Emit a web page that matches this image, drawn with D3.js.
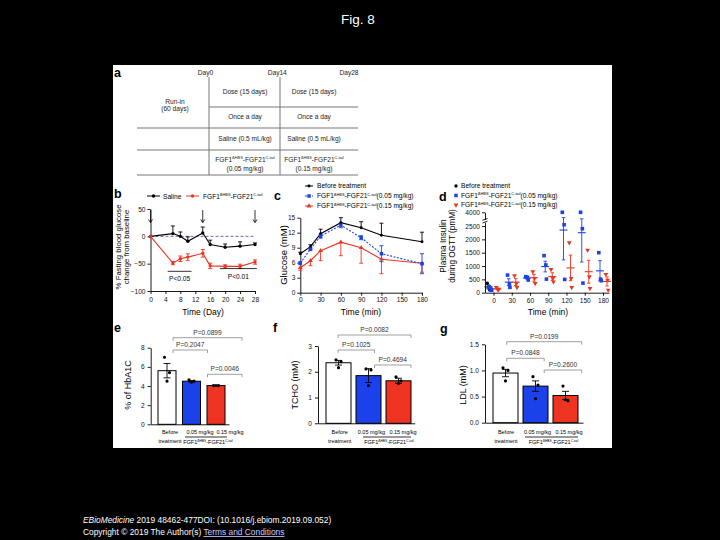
<html>
<head>
<script src="https://cdn.jsdelivr.net/npm/d3@7"></script>
<style>
  body { margin: 0; background: #000; }
  text { font-family: "Liberation Sans", Arial, sans-serif; }
</style>
</head>
<body>
<div id="chart"></div>
<script>
// ================= data =================
// panel a (study design)
const aDays = ["Day0", "Day14", "Day28"];
const aRows = [["Dose (15 days)", "Dose (15 days)"], ["Once a day", "Once a day"], ["Saline (0.5 mL/kg)", "Saline (0.5 mL/kg)"]];
const aDoses = ["(0.05 mg/kg)", "(0.15 mg/kg)"];

// panel b: % fasting glucose change
const bDays = [0, 6, 8, 10, 14, 16, 20, 24, 28];
const bSaline = [0, 5, 0, -9, 6, -15, -20, -18, -15];
const bSalineErr = [0, 14, 8, 8, 11, 8, 6, 8, 3];
const bFgf = [0, -49, -41, -38, -31, -54, -55, -55, -47];
const bFgfErr = [0, 3, 5, 6, 7, 5, 3, 4, 4];
const bArrowDays = [0, 14, 28];
const bTicksX = [0, 4, 8, 12, 16, 20, 24, 28];
const bTicksY = [-100, -50, 0, 50];
const bSigText = ["P<0.05", "P<0.01"];
const bSigFrom = [4.6, 18.6];
const bSigTo = [11, 28.5];
const bSigAt = [-64, -59];

// panel c: OGTT glucose
const cTimes = [0, 15, 30, 60, 90, 120, 180];
const cBefore = [7.8, 9.2, 11.8, 14.0, 13.0, 11.5, 10.2];
const cBeforeErr = [0.3, 0.4, 0.9, 1.0, 1.2, 2.4, 1.9];
const cLow = [5.9, 8.7, 11.3, 13.5, 11.0, 7.8, 5.8];
const cLowErr = [0.3, 0.2, 0.4, 0.5, 0.4, 1.6, 2.0];
const cHigh = [5.0, 6.4, 8.4, 10.1, 9.0, 6.7, 5.9];
const cHighErr = [0.5, 1.0, 2.0, 2.7, 3.1, 2.9, 1.8];
const cTicksX = [0, 30, 60, 90, 120, 150, 180];
const cTicksY = [0, 3, 6, 9, 12, 15];

// panel d: insulin during OGTT (individual animals + mean/SEM)
const dTimes = [0, 30, 60, 90, 120, 150, 180];
const dBeforeTimes = [0];
const dBeforePts = [[350, 200, 100]];
const dBeforeMean = [217];
const dBeforeErr = [70];
const dLowPts = [[220, 120, 90], [660, 325, 200], [600, 575, 475], [1390, 1040, 510], [4000, 2550, 500], [4000, 2400, 360], [1500, 510, 450]];
const dLowMean = [143, 395, 550, 980, 2350, 2250, 820];
const dLowErr = [40, 130, 40, 200, 1120, 1100, 380];
const dHighPts = [[200, 100, 130], [640, 350, 200], [790, 540, 350], [875, 540, 410], [1875, 540, 200], [1600, 600, 160], [690, 475, 100]];
const dHighMean = [143, 397, 560, 608, 930, 787, 422];
const dHighErr = [30, 130, 130, 140, 480, 430, 170];
const dTicksY = [0, 500, 1000, 1500, 2000, 2500];
const dTicksYTop = [4000];

// panels e-g: bars
const barCats = ["Before treatment", "0.05 mg/kg", "0.15 mg/kg"];
const eMean = [5.6, 4.5, 4.05];
const eErr = [0.75, 0.07, 0.03];
const ePts = [[7.0, 5.4, 4.5], [4.65, 4.5, 4.4], [4.05, 4.05, 4.05]];
const eTicks = [0, 2, 4, 6, 8];
const eSig = ["P=0.0899", "P=0.2047", "P=0.0046"];

const fMean = [2.35, 1.85, 1.65];
const fErr = [0.09, 0.27, 0.1];
const fPts = [[2.46, 2.39, 2.16], [2.11, 2.07, 1.46], [1.8, 1.65, 1.55]];
const fTicks = [0, 1, 2, 3];
const fSig = ["P=0.0082", "P=0.1025", "P=0.4694"];

const gMean = [0.95, 0.70, 0.52];
const gErr = [0.07, 0.10, 0.08];
const gPts = [[1.05, 1.0, 0.8], [0.88, 0.72, 0.46], [0.70, 0.42, 0.44]];
const gTicks = [0, 0.5, 1.0, 1.5];
const gSig = ["P=0.0199", "P=0.0848", "P=0.2600"];

const sigPairs = [[0, 2], [0, 1], [1, 2]];

// ================= drawing =================
const blue = "#1b42ea", red = "#ee3420", purple = "#7b5fc8";
const FS = 6.6;

const svg = d3.select("#chart").append("svg").attr("width", 720).attr("height", 540);
svg.append("rect").attr("width", 720).attr("height", 540).attr("fill", "#000");

svg.append("text").attr("x", 358).attr("y", 24).attr("text-anchor", "middle")
   .attr("fill", "#fff").attr("font-size", 13.5).text("Fig. 8");

svg.append("rect").attr("x", 113).attr("y", 65).attr("width", 499).attr("height", 383).attr("fill", "#fff");

const fig = svg.append("g");

// FGF1^ΔHBS-FGF21^C-tail with superscripts
function fgfText(g, x, y, size, anchor, tail) {
    const t = g.append("text").attr("x", x).attr("y", y).attr("font-size", size).attr("text-anchor", anchor);
    t.append("tspan").text("FGF1");
    t.append("tspan").attr("dy", -size * 0.4).attr("font-size", size * 0.6).text("ΔHBS");
    t.append("tspan").attr("dy", size * 0.4).text("-FGF21");
    t.append("tspan").attr("dy", -size * 0.4).attr("font-size", size * 0.6).text("C-tail");
    if (tail) t.append("tspan").attr("dy", size * 0.4).text(tail);
    return t;
}

function letter(x, y, s) {
    fig.append("text").attr("x", x).attr("y", y).attr("font-size", 12.5).attr("font-weight", "bold").text(s);
}

function styleAxis(sel) {
    sel.attr("font-size", FS).attr("font-family", "Liberation Sans, Arial, sans-serif");
    sel.selectAll("path, line").attr("stroke", "#000").attr("stroke-width", 0.9);
    sel.selectAll("text").attr("fill", "#111");
}

function yTitle(x, y, size, lines) {
    lines.forEach((s, i) => {
        fig.append("text").attr("transform", `translate(${x + i * size * 1.05},${y}) rotate(-90)`)
           .attr("text-anchor", "middle").attr("font-size", size).text(s);
    });
}

function marker(g, type, x, y, color, size) {
    const sym = type === "square" ? d3.symbolSquare : type === "tri" || type === "down" ? d3.symbolTriangle : d3.symbolCircle;
    g.append("path").attr("d", d3.symbol(sym, size)())
     .attr("transform", `translate(${x},${y})` + (type === "down" ? " rotate(180)" : ""))
     .attr("fill", color);
}

function errBar(g, x, y0, y1, color, cap, w) {
    g.append("line").attr("x1", x).attr("x2", x).attr("y1", y0).attr("y2", y1).attr("stroke", color).attr("stroke-width", w || 0.9);
    g.append("line").attr("x1", x - cap / 2).attr("x2", x + cap / 2).attr("y1", y1).attr("y2", y1).attr("stroke", color).attr("stroke-width", w || 0.9);
}

// ---------- panel a ----------
letter(114, 77, "a");
const tbl = fig.append("g").attr("font-size", 6.6).attr("fill", "#222");
const aDayX = d3.scalePoint().domain(aDays).range([205.5, 349]);
aDays.forEach(d => tbl.append("text").attr("x", aDayX(d)).attr("y", 75).attr("text-anchor", "middle").text(d));
const aColX = [245, 314];
const aRowY = [94, 119, 141];
const lineCol = "#777";
[209, 280].forEach(x => tbl.append("line").attr("x1", x).attr("x2", x).attr("y1", 77).attr("y2", 175).attr("stroke", lineCol).attr("stroke-width", 1));
tbl.append("line").attr("x1", 209).attr("x2", 358).attr("y1", 107).attr("y2", 107).attr("stroke", lineCol);
[128, 150, 175].forEach(y => tbl.append("line").attr("x1", 137).attr("x2", 358).attr("y1", y).attr("y2", y).attr("stroke", lineCol));
aRows.forEach((row, r) => row.forEach((s, c) =>
    tbl.append("text").attr("x", aColX[c]).attr("y", aRowY[r]).attr("text-anchor", "middle").text(s)));
aDoses.forEach((s, c) => {
    fgfText(tbl, aColX[c], 162, 6.6, "middle");
    tbl.append("text").attr("x", aColX[c]).attr("y", 171).attr("text-anchor", "middle").text(s);
});
tbl.append("text").attr("x", 175).attr("y", 104).attr("text-anchor", "middle").text("Run-in");
tbl.append("text").attr("x", 175).attr("y", 111).attr("text-anchor", "middle").text("(60 days)");

// ---------- panel b ----------
letter(114, 198, "b");
const xB = d3.scaleLinear().domain([0, 28]).range([150.5, 255]);
const yB = d3.scaleLinear().domain([-100, 50]).range([291, 209]);
const gB = fig.append("g");
gB.append("g").attr("transform", "translate(0,291)")
  .call(d3.axisBottom(xB).tickValues(bTicksX).tickSize(3).tickSizeOuter(0).tickPadding(3)).call(styleAxis);
gB.append("g").attr("transform", "translate(150.5,0)")
  .call(d3.axisLeft(yB).tickValues(bTicksY).tickSize(3).tickSizeOuter(0).tickPadding(2)).call(styleAxis);
gB.append("line").attr("x1", xB(0)).attr("x2", xB(28)).attr("y1", yB(0)).attr("y2", yB(0))
  .attr("stroke", purple).attr("stroke-width", 1).attr("stroke-dasharray", "3,2");
// saline
gB.append("path").attr("d", d3.line().x((d, i) => xB(bDays[i])).y(d => yB(d))(bSaline))
  .attr("fill", "none").attr("stroke", "#000").attr("stroke-width", 1.1);
bSaline.forEach((v, i) => { if (bSalineErr[i]) errBar(gB, xB(bDays[i]), yB(v), yB(v + bSalineErr[i]), "#000", 4); });
bSaline.forEach((v, i) => marker(gB, "circle", xB(bDays[i]), yB(v), "#000", 9));
// FGF
gB.append("path").attr("d", d3.line().x((d, i) => xB(bDays[i])).y(d => yB(d))(bFgf))
  .attr("fill", "none").attr("stroke", red).attr("stroke-width", 1.1);
bFgf.forEach((v, i) => {
    if (bFgfErr[i]) {
        errBar(gB, xB(bDays[i]), yB(v), yB(v + bFgfErr[i]), red, 4);
        errBar(gB, xB(bDays[i]), yB(v), yB(v - bFgfErr[i]), red, 4);
    }
});
bFgf.forEach((v, i) => marker(gB, "circle", xB(bDays[i]), yB(v), red, 9));
// arrows at dosing days
bArrowDays.forEach(d => {
    gB.append("line").attr("x1", xB(d)).attr("x2", xB(d)).attr("y1", yB(48)).attr("y2", yB(26)).attr("stroke", "#000").attr("stroke-width", 0.8);
    gB.append("path").attr("d", `M${xB(d) - 2},${yB(31)} L${xB(d)},${yB(25)} L${xB(d) + 2},${yB(31)}`)
      .attr("fill", "none").attr("stroke", "#000").attr("stroke-width", 0.8);
});
bSigText.forEach((s, i) => {
    gB.append("line").attr("x1", xB(bSigFrom[i])).attr("x2", xB(bSigTo[i])).attr("y1", yB(bSigAt[i])).attr("y2", yB(bSigAt[i]))
      .attr("stroke", "#000").attr("stroke-width", 0.8);
    gB.append("text").attr("x", (xB(bSigFrom[i]) + xB(bSigTo[i])) / 2).attr("y", yB(bSigAt[i]) + 10)
      .attr("text-anchor", "middle").attr("font-size", FS).text(s);
});
// legend
gB.append("line").attr("x1", 147).attr("x2", 160).attr("y1", 196).attr("y2", 196).attr("stroke", "#000");
marker(gB, "circle", 153.5, 196, "#000", 9);
gB.append("text").attr("x", 163).attr("y", 198.5).attr("font-size", FS).text("Saline");
gB.append("line").attr("x1", 186).attr("x2", 199).attr("y1", 196).attr("y2", 196).attr("stroke", red);
marker(gB, "circle", 192.5, 196, red, 9);
fgfText(gB, 203, 198.5, FS, "start");
yTitle(121, 247, 7.8, ["% Fasting blood glucose", "change from baseline"]);
fig.append("text").attr("x", 203).attr("y", 315).attr("text-anchor", "middle").attr("font-size", 8.5).text("Time (Day)");

// ---------- panel c ----------
letter(274, 200, "c");
const xC = d3.scaleLinear().domain([0, 180]).range([300.3, 422]);
const yC = d3.scaleLinear().domain([0, 15]).range([292.7, 217.7]);
const gC = fig.append("g");
gC.append("g").attr("transform", "translate(0,292.7)")
  .call(d3.axisBottom(xC).tickValues(cTicksX).tickSize(3).tickSizeOuter(0).tickPadding(2)).call(styleAxis);
gC.append("g").attr("transform", "translate(300.3,0)")
  .call(d3.axisLeft(yC).tickValues(cTicksY).tickSize(3).tickSizeOuter(0).tickPadding(2)).call(styleAxis);
const cLine = d3.line().x((d, i) => xC(cTimes[i])).y(d => yC(d));
gC.append("path").attr("d", cLine(cBefore)).attr("fill", "none").attr("stroke", "#000").attr("stroke-width", 1.1);
gC.append("path").attr("d", cLine(cHigh)).attr("fill", "none").attr("stroke", red).attr("stroke-width", 1.1);
gC.append("path").attr("d", cLine(cLow)).attr("fill", "none").attr("stroke", blue).attr("stroke-width", 1.1).attr("stroke-dasharray", "2,1.5");
cBefore.forEach((v, i) => errBar(gC, xC(cTimes[i]), yC(v), yC(v + cBeforeErr[i]), "#000", 4));
cHigh.forEach((v, i) => errBar(gC, xC(cTimes[i]), yC(v), yC(v - cHighErr[i]), red, 4));
cLow.forEach((v, i) => {
    errBar(gC, xC(cTimes[i]), yC(v), yC(v + cLowErr[i]), blue, 4);
    errBar(gC, xC(cTimes[i]), yC(v), yC(v - cLowErr[i]), blue, 4);
});
cBefore.forEach((v, i) => marker(gC, "circle", xC(cTimes[i]), yC(v), "#000", 7));
cHigh.forEach((v, i) => marker(gC, "tri", xC(cTimes[i]), yC(v), red, 10));
cLow.forEach((v, i) => marker(gC, "square", xC(cTimes[i]), yC(v), blue, 12));
// legend
const cLegY = [186, 196, 206];
gC.append("line").attr("x1", 305).attr("x2", 313).attr("y1", cLegY[0]).attr("y2", cLegY[0]).attr("stroke", "#000");
marker(gC, "circle", 309, cLegY[0], "#000", 7);
gC.append("text").attr("x", 317).attr("y", cLegY[0] + 2.3).attr("font-size", FS).text("Before treatment");
gC.append("line").attr("x1", 305).attr("x2", 313).attr("y1", cLegY[1]).attr("y2", cLegY[1]).attr("stroke", blue).attr("stroke-dasharray", "2,1.5");
marker(gC, "square", 309, cLegY[1], blue, 12);
fgfText(gC, 317, cLegY[1] + 2.3, FS, "start", "(0.05 mg/kg)");
gC.append("line").attr("x1", 305).attr("x2", 313).attr("y1", cLegY[2]).attr("y2", cLegY[2]).attr("stroke", red);
marker(gC, "tri", 309, cLegY[2], red, 10);
fgfText(gC, 317, cLegY[2] + 2.3, FS, "start", "(0.15 mg/kg)");
yTitle(287, 255, 9.5, ["Glucose (mM)"]);
fig.append("text").attr("x", 361).attr("y", 315).attr("text-anchor", "middle").attr("font-size", 8.5).text("Time (min)");

// ---------- panel d ----------
letter(439, 201, "d");
const xD = d3.scaleLinear().domain([0, 180]).range([493.5, 603]);
const yDLow = d3.scaleLinear().domain([0, 2640]).range([292.7, 222.3]);
const yDHigh = d3.scaleLinear().domain([3300, 4000]).range([219.3, 212.3]);
const yD = v => v <= 2640 ? yDLow(v) : yDHigh(Math.max(v, 3300));
const gD = fig.append("g");
gD.append("g").attr("transform", "translate(0,292.7)")
  .call(d3.axisBottom(xD.copy().range([485, 609]).domain([xD.invert(485), xD.invert(609)])).tickValues(dTimes).tickSize(3).tickSizeOuter(0).tickPadding(3)).call(styleAxis);
gD.append("g").attr("transform", "translate(485,0)")
  .call(d3.axisLeft(yDLow).tickValues(dTicksY).tickFormat(d3.format("d")).tickSize(3).tickSizeOuter(0).tickPadding(2)).call(styleAxis);
gD.append("g").attr("transform", "translate(485,0)")
  .call(d3.axisLeft(yDHigh).tickValues(dTicksYTop).tickFormat(d3.format("d")).tickSize(3).tickSizeOuter(0).tickPadding(2)).call(styleAxis);
gD.append("path").attr("d", "M482.5,223 L487.5,221.2 M482.5,220.3 L487.5,218.5").attr("stroke", "#000").attr("stroke-width", 0.9);

const dGroups = [
    { times: dBeforeTimes, pts: dBeforePts, mean: dBeforeMean, err: dBeforeErr, color: "#000", type: "circle", size: 10, off: -5 },
    { times: dTimes, pts: dLowPts, mean: dLowMean, err: dLowErr, color: blue, type: "square", size: 13, off: -3 },
    { times: dTimes, pts: dHighPts, mean: dHighMean, err: dHighErr, color: red, type: "down", size: 10, off: 4 }
];
const jitter = [-1.2, 0.6, 1.2];
dGroups.forEach(grp => {
    grp.times.forEach((t, i) => {
        const x = xD(t) + grp.off;
        errBar(gD, x, yD(grp.mean[i]), yD(grp.mean[i] + grp.err[i]), grp.color, 3.5);
        errBar(gD, x, yD(grp.mean[i]), yD(grp.mean[i] - grp.err[i]), grp.color, 3.5);
        gD.append("line").attr("x1", x - 4).attr("x2", x + 4).attr("y1", yD(grp.mean[i])).attr("y2", yD(grp.mean[i]))
          .attr("stroke", grp.color).attr("stroke-width", 1.1);
        grp.pts[i].forEach((v, k) => marker(gD, grp.type, x + jitter[k], yD(v), grp.color, grp.size));
    });
});
const dLegY = [186, 195.5, 205];
marker(gD, "circle", 456, dLegY[0], "#000", 9);
gD.append("text").attr("x", 461).attr("y", dLegY[0] + 2.3).attr("font-size", FS).text("Before treatment");
marker(gD, "square", 456, dLegY[1], blue, 12);
fgfText(gD, 461, dLegY[1] + 2.3, FS, "start", "(0.05 mg/kg)");
marker(gD, "down", 456, dLegY[2], red, 10);
fgfText(gD, 461, dLegY[2] + 2.3, FS, "start", "(0.15 mg/kg)");
yTitle(446, 246, 8.2, ["Plasma Insulin", "during OGTT (pmM)"]);
fig.append("text").attr("x", 548).attr("y", 315).attr("text-anchor", "middle").attr("font-size", 8.5).text("Time (min)");

// ---------- panels e, f, g ----------
const LFS = 5.5;
function barPanel(o) {
    const g = fig.append("g");
    const x = d3.scaleBand().domain(barCats).range(o.bandRange).paddingInner(o.padding).paddingOuter(0);
    const y = d3.scaleLinear().domain(o.domain).range(o.yRange);
    const xb = d3.scalePoint().domain(barCats).range(o.sigRange);
    const xl = d3.scalePoint().domain(barCats).range(o.labRange);
    const fills = ["#fff", blue, red];
    // bars
    barCats.forEach((c, i) => {
        g.append("rect").attr("x", x(c)).attr("y", y(o.mean[i])).attr("width", x.bandwidth()).attr("height", y(o.domain[0]) - y(o.mean[i]))
         .attr("fill", fills[i]).attr("stroke", "#000").attr("stroke-width", 1);
    });
    barCats.forEach((c, i) => {
        const cx = x(c) + x.bandwidth() / 2;
        errBar(g, cx, y(o.mean[i]), y(o.mean[i] + o.err[i]), "#000", 7);
        errBar(g, cx, y(o.mean[i]), y(o.mean[i] - o.err[i]), "#000", 7);
        o.pts[i].forEach((v, k) => marker(g, "circle", cx + [-2.5, 2.5, 0][k], y(v), "#000", 8));
    });
    // axes
    g.append("g").attr("transform", `translate(${o.axisX},0)`)
     .call(d3.axisLeft(y).tickValues(o.ticks).tickFormat(o.fmt).tickSize(3).tickSizeOuter(0).tickPadding(3)).call(styleAxis);
    g.append("g").attr("transform", `translate(0,${o.yRange[0]})`)
     .call(d3.axisBottom(d3.scaleLinear().range([o.axisX, o.axisEnd])).tickValues([]).tickSizeOuter(0)).call(styleAxis);
    // significance brackets
    sigPairs.forEach((p, i) => {
        const x1 = xb(barCats[p[0]]), x2 = xb(barCats[p[1]]), yy = o.sigY[i];
        g.append("path").attr("d", `M${x1},${yy + 3} V${yy} H${x2} V${yy + 3}`)
         .attr("fill", "none").attr("stroke", "#888").attr("stroke-width", 0.8);
        g.append("text").attr("x", (x1 + x2) / 2).attr("y", yy - 3).attr("text-anchor", "middle")
         .attr("font-size", FS).attr("fill", "#333").text(o.sig[i]);
    });
    // category labels
    barCats.forEach((c, i) => {
        if (i === 0) {
            c.split(" ").forEach((w, k) => g.append("text").attr("x", xl(c)).attr("y", 434 + k * 9)
              .attr("text-anchor", "middle").attr("font-size", LFS).text(w));
        } else {
            g.append("text").attr("x", xl(c)).attr("y", 434).attr("text-anchor", "middle").attr("font-size", LFS).text(c);
        }
    });
    g.append("line").attr("x1", o.fgfLine[0]).attr("x2", o.fgfLine[1]).attr("y1", 437).attr("y2", 437).attr("stroke", "#000").attr("stroke-width", 0.8);
    fgfText(g, (o.fgfLine[0] + o.fgfLine[1]) / 2 + 2, 444, LFS, "middle");
    yTitle(o.titleX, 385, 9, [o.title]);
}

letter(114, 332, "e");
barPanel({ bandRange: [158, 225], padding: 0.265, domain: [0, 8], yRange: [424.3, 347.7], axisX: 150.7, axisEnd: 229,
    mean: eMean, err: eErr, pts: ePts, ticks: eTicks, fmt: d3.format("d"), sig: eSig,
    sigRange: [173, 242], sigY: [337.7, 350, 374.3], labRange: [170, 230], fgfLine: [185, 227],
    title: "% of HbA1C", titleX: 131 });

letter(273, 332, "f");
barPanel({ bandRange: [326, 411], padding: 0.167, domain: [0, 3], yRange: [423.3, 346], axisX: 318, axisEnd: 414.7,
    mean: fMean, err: fErr, pts: fPts, ticks: fTicks, fmt: d3.format("d"), sig: fSig,
    sigRange: [338, 411], sigY: [335, 350, 365], labRange: [339.7, 403], fgfLine: [363, 411],
    title: "TCHO (mM)", titleX: 298 });

letter(440, 333, "g");
barPanel({ bandRange: [493, 578], padding: 0.167, domain: [0, 1.5], yRange: [422.7, 344.3], axisX: 485, axisEnd: 583,
    mean: gMean, err: gErr, pts: gPts, ticks: gTicks, fmt: d3.format(".1f"), sig: gSig,
    sigRange: [506.7, 581.7], sigY: [341.7, 358.3, 370], labRange: [506, 569], fgfLine: [525, 578],
    title: "LDL (mM)", titleX: 466 });

// ---------- footer ----------
const foot = svg.append("g").attr("fill", "#fff").attr("font-size", 8.4);
const f1 = foot.append("text").attr("x", 83).attr("y", 523);
f1.append("tspan").attr("font-style", "italic").text("EBioMedicine");
f1.append("tspan").text(" 2019 48462-477DOI: (10.1016/j.ebiom.2019.09.052)");
const f2 = foot.append("text").attr("x", 83).attr("y", 535);
f2.append("tspan").text("Copyright © 2019 The Author(s) ");
f2.append("tspan").attr("fill", "#c9c9ff").attr("text-decoration", "underline").text("Terms and Conditions");
</script>
</body>
</html>
